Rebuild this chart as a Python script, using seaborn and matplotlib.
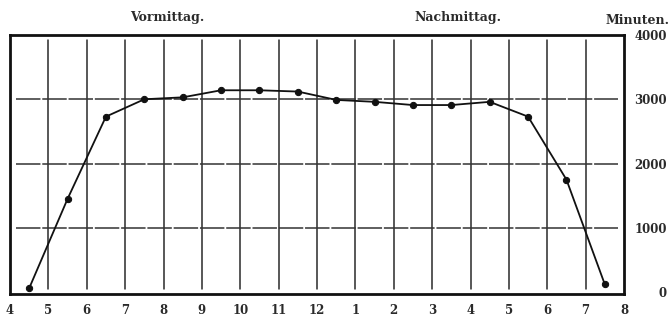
import numpy as np
import pandas as pd
import matplotlib
matplotlib.use("Agg")
import matplotlib.pyplot as plt
import seaborn as sns

# Stundenmitte (4 Uhr früh bis 8 Uhr abends) und Minuten
stunden = [4.5, 5.5, 6.5, 7.5, 8.5, 9.5, 10.5, 11.5, 12.5, 13.5, 14.5, 15.5, 16.5, 17.5, 18.5, 19.5]
minuten = [60, 1450, 2730, 3000, 3030, 3140, 3140, 3120, 2990, 2960, 2910, 2910, 2960, 2730, 1750, 120]
x_ticks = list(range(4, 21))
x_labels = ["4", "5", "6", "7", "8", "9", "10", "11", "12", "1", "2", "3", "4", "5", "6", "7", "8"]
y_ticks = [0, 1000, 2000, 3000, 4000]

df = pd.DataFrame({"stunde": stunden, "minuten": minuten})

sns.set_style("white")
plt.rcParams["font.family"] = ["DejaVu Serif"]

fig = plt.figure(figsize=(6.72, 3.17), dpi=100)
ax = fig.add_axes([10 / 672, 1 - 294 / 317, 614 / 672, 259 / 317])

# Gitter
for h in range(5, 20):
    ax.axvline(h, ymin=0.02, ymax=0.98, color="#2a2a2a", lw=1.1, zorder=1)
for v in [1000, 2000, 3000]:
    ax.axhline(v, xmin=0.01, xmax=0.99, color="#333333", lw=1.1, ls=(0, (16, 1.2)), zorder=1)

sns.lineplot(data=df, x="stunde", y="minuten", ax=ax, color="#111111", lw=1.3,
             marker="o", markersize=4.5, markeredgecolor="#111111", zorder=3)

ax.set_xlim(4, 20)
ax.set_ylim(-30, 3960)
ax.set_xticks(x_ticks)
ax.set_xticklabels(x_labels, fontsize=8.5, fontweight="bold", color="#2a2a2a")
ax.yaxis.tick_right()
ax.set_yticks(y_ticks)
ax.set_yticklabels([str(t) for t in y_ticks], fontsize=8.5, fontweight="bold", color="#2a2a2a",
                   ha="right")
ax.tick_params(length=0, pad=7)
ax.tick_params(axis="y", pad=31)
ax.set_xlabel("")
ax.set_ylabel("")
for s in ax.spines.values():
    s.set_visible(True)
    s.set_color("#111111")
    s.set_linewidth(2)
# 4000 steht im Original etwas unter der Oberkante
ax.get_yticklabels()[-1].set_y(3880)

fig.text(167 / 672, 1 - 18 / 317, "Vormittag.", ha="center", va="center", fontsize=9, fontweight="bold", color="#2a2a2a")
fig.text(458 / 672, 1 - 18 / 317, "Nachmittag.", ha="center", va="center", fontsize=9, fontweight="bold", color="#2a2a2a")
fig.text(670 / 672, 1 - 21 / 317, "Minuten.", ha="right", va="center", fontsize=9, fontweight="bold", color="#2a2a2a")

fig.savefig("out.png", dpi=100)
